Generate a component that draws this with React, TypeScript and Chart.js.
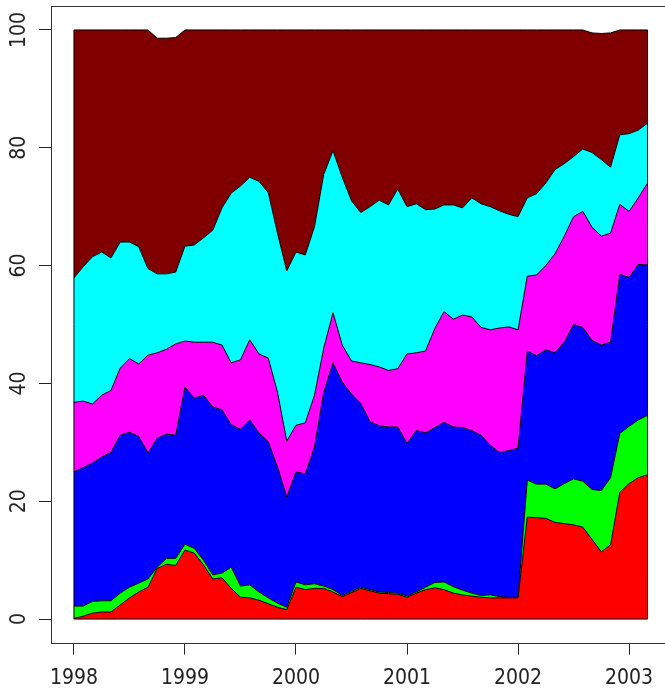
import React, { useEffect, useRef } from "react";
import { Chart, registerables } from "chart.js";

Chart.register(...registerables);

// Monthly observations, Jan 1998 .. Mar 2003 (63 months)
const START_YEAR = 1998;
const MONTHS = 63;
const xTicks = [1998, 1999, 2000, 2001, 2002, 2003];
const yTicks = [0, 20, 40, 60, 80, 100];

// Cumulative upper boundary of each band (percent)
const redTop = [
  0.1, 0.5, 1.0, 1.2, 1.2, 2.4, 3.6, 4.6, 5.4, 8.6, 9.3, 9.1,
  11.7, 11.2, 9.2, 6.8, 7.0, 5.2, 3.7, 3.6, 3.2, 2.6, 2.0, 1.6,
  5.4, 5.0, 5.2, 5.2, 4.6, 3.8, 4.5, 5.2, 4.8, 4.4, 4.3, 4.2,
  3.7, 4.4, 5.0, 5.3, 5.0, 4.4, 4.1, 3.9, 3.7, 3.6, 3.6, 3.6,
  3.6, 17.3, 17.2, 17.1, 16.4, 16.2, 16.0, 15.6, 13.5, 11.4, 12.6, 21.5,
  23.0, 24.0, 24.5,
];
const greenTop = [
  2.2, 2.2, 3.0, 3.1, 3.1, 4.4, 5.4, 6.1, 6.8, 8.8, 10.3, 10.3,
  12.7, 12.0, 10.0, 7.5, 7.8, 8.8, 5.6, 5.8, 4.6, 3.6, 2.7, 2.0,
  6.3, 5.8, 6.0, 5.6, 5.0, 4.0, 4.7, 5.4, 5.0, 4.6, 4.5, 4.4,
  3.9, 4.6, 5.4, 6.2, 6.3, 5.5, 4.9, 4.4, 4.0, 4.1, 3.8, 3.7,
  3.7, 23.6, 22.9, 22.9, 22.1, 23.0, 23.8, 23.4, 22.0, 21.8, 24.0, 31.5,
  32.7, 33.8, 34.6,
];
const blueTop = [
  25.0, 25.7, 26.5, 27.5, 28.3, 31.2, 31.7, 31.0, 28.2, 30.7, 31.4, 31.2,
  39.4, 37.5, 38.0, 36.0, 35.5, 33.0, 32.2, 33.8, 31.6, 30.1, 25.8, 20.7,
  25.0, 24.6, 29.2, 38.5, 43.5, 40.2, 38.2, 36.6, 33.5, 32.8, 32.6, 32.6,
  29.8, 32.0, 31.6, 32.5, 33.4, 32.6, 32.5, 32.0, 31.2, 29.5, 28.3, 28.6,
  29.0, 45.5, 44.7, 45.7, 45.2, 47.0, 50.0, 49.5, 47.3, 46.5, 47.0, 58.5,
  58.0, 60.2, 60.1,
];
const magentaTop = [
  36.8, 37.0, 36.5, 38.0, 38.8, 42.6, 44.2, 43.3, 44.8, 45.2, 45.8, 46.7,
  47.2, 47.0, 47.0, 47.0, 46.5, 43.5, 44.0, 47.4, 45.0, 44.3, 38.5, 30.2,
  32.9, 33.3, 38.0, 46.0, 52.0, 46.5, 43.8, 43.5, 43.2, 42.8, 42.2, 42.5,
  45.0, 45.2, 45.5, 49.3, 52.2, 50.9, 51.6, 51.3, 49.5, 49.1, 49.4, 49.6,
  49.1, 58.2, 58.4, 60.0, 62.0, 65.0, 68.3, 69.2, 66.5, 65.0, 65.5, 70.4,
  69.2, 71.5, 74.0,
];
const cyanTop = [
  57.9, 59.8, 61.5, 62.3, 61.3, 64.0, 64.0, 63.2, 59.5, 58.6, 58.6, 58.9,
  63.3, 63.5, 64.7, 66.0, 69.8, 72.3, 73.5, 75.0, 74.3, 72.4, 65.5, 59.1,
  62.3, 61.8, 66.6, 75.5, 79.5, 75.0, 71.0, 69.0, 70.0, 71.1, 70.3, 73.0,
  70.0, 70.5, 69.5, 69.6, 70.3, 70.3, 69.8, 71.5, 70.5, 70.0, 69.3, 68.7,
  68.3, 71.5, 72.2, 74.0, 76.3, 77.3, 78.5, 79.8, 79.2, 78.0, 76.7, 82.2,
  82.4, 83.0, 84.2,
];
const maroonTop = [
  100, 100, 100, 100, 100, 100, 100, 100, 100, 98.6, 98.6, 98.7,
  100, 100, 100, 100, 100, 100, 100, 100, 100, 100, 100, 100,
  100, 100, 100, 100, 100, 100, 100, 100, 100, 100, 100, 100,
  100, 100, 100, 100, 100, 100, 100, 100, 100, 100, 100, 100,
  100, 100, 100, 100, 100, 100, 100, 100, 99.5, 99.4, 99.5, 100,
  100, 100, 100,
];

const seriesColors = ["#FF0000", "#00FF00", "#0000FF", "#FF00FF", "#00FFFF", "#800000"];
const seriesTops = [redTop, greenTop, blueTop, magentaTop, cyanTop, maroonTop];

const xValues = Array.from({ length: MONTHS }, (_, i) => START_YEAR + i / 12);

const FONT = '"Liberation Sans Narrow", "Arial Narrow", "DejaVu Sans Condensed", sans-serif';

const framePlugin = {
  id: "rframe",
  afterDatasetsDraw(chart: any) {
    const { ctx, scales } = chart;
    const xs = scales.x;
    const ys = scales.y;
    ctx.save();
    ctx.strokeStyle = "#000";
    ctx.lineWidth = 1;
    const y0 = ys.getPixelForValue(0);
    [0, MONTHS - 1].forEach((i) => {
      const px = xs.getPixelForValue(xValues[i]);
      ctx.beginPath();
      ctx.moveTo(px, y0);
      ctx.lineTo(px, ys.getPixelForValue(maroonTop[i]));
      ctx.stroke();
    });
    ctx.beginPath();
    ctx.moveTo(xs.getPixelForValue(xValues[0]), y0);
    ctx.lineTo(xs.getPixelForValue(xValues[MONTHS - 1]), y0);
    ctx.stroke();
    ctx.restore();
  },
  afterDraw(chart: any) {
    const { ctx, chartArea } = chart;
    ctx.save();
    ctx.strokeStyle = "#333";
    ctx.lineWidth = 1;
    const l = Math.floor(chartArea.left) + 0.5;
    const t = Math.floor(chartArea.top) + 0.5;
    const r = Math.floor(chartArea.right) + 0.5;
    const b = Math.round(chartArea.bottom) + 0.5;
    ctx.strokeRect(l, t, r - l, b - t);
    ctx.restore();
  },
};

export default function App() {
  const ref = useRef<HTMLCanvasElement | null>(null);

  useEffect(() => {
    if (!ref.current) return;
    const datasets = seriesTops.map((tops, k) => ({
      data: tops.map((v, i) => ({ x: xValues[i], y: v })),
      backgroundColor: seriesColors[k],
      borderColor: "#000",
      borderWidth: 1,
      fill: k === 0 ? "origin" : "-1",
      pointRadius: 0,
      tension: 0,
    }));

    const chart = new Chart(ref.current, {
      type: "line",
      data: { datasets },
      plugins: [framePlugin],
      options: {
        responsive: false,
        devicePixelRatio: 1,
        animation: false,
        layout: { padding: { top: 6.4, right: 19.5, left: 0, bottom: 0 } },
        plugins: { legend: { display: false }, tooltip: { enabled: false } },
        scales: {
          x: {
            type: "linear",
            min: 1997.7933,
            max: 2003.3733,
            afterBuildTicks: (s: any) => {
              s.ticks = xTicks.map((v) => ({ value: v }));
            },
            afterFit: (s: any) => {
              s.height = 52.4;
              s.paddingLeft = 0;
              s.paddingRight = 0;
            },
            grid: { drawOnChartArea: false, drawTicks: true, tickLength: 12, color: "#222", lineWidth: 1 },
            border: { display: false },
            ticks: {
              autoSkip: false,
              maxRotation: 0,
              minRotation: 0,
              padding: 11,
              color: "#222",
              font: { family: FONT, size: 21 },
              callback: (v: any) => String(v),
            },
          },
          y: {
            type: "linear",
            min: -4,
            max: 104,
            afterBuildTicks: (s: any) => {
              s.ticks = yTicks.map((v) => ({ value: v }));
            },
            afterFit: (s: any) => {
              s.width = 51;
              s.paddingTop = 0;
              s.paddingBottom = 0;
            },
            grid: { drawOnChartArea: false, drawTicks: true, tickLength: 12, color: "#222", lineWidth: 1 },
            border: { display: false },
            ticks: {
              autoSkip: false,
              minRotation: 90,
              maxRotation: 90,
              crossAlign: "center",
              padding: 1,
              color: "#222",
              font: { family: FONT, size: 21 },
              callback: (v: any) => String(v),
            },
          },
        },
      } as any,
    });
    return () => chart.destroy();
  }, []);

  return (
    <div
      style={{
        position: "fixed",
        left: 0,
        top: 0,
        width: 665,
        height: 695,
        overflow: "hidden",
        background: "#fff",
      }}
    >
      <canvas ref={ref} width={690} height={695} style={{ display: "block", width: 690, height: 695 }} />
    </div>
  );
}
